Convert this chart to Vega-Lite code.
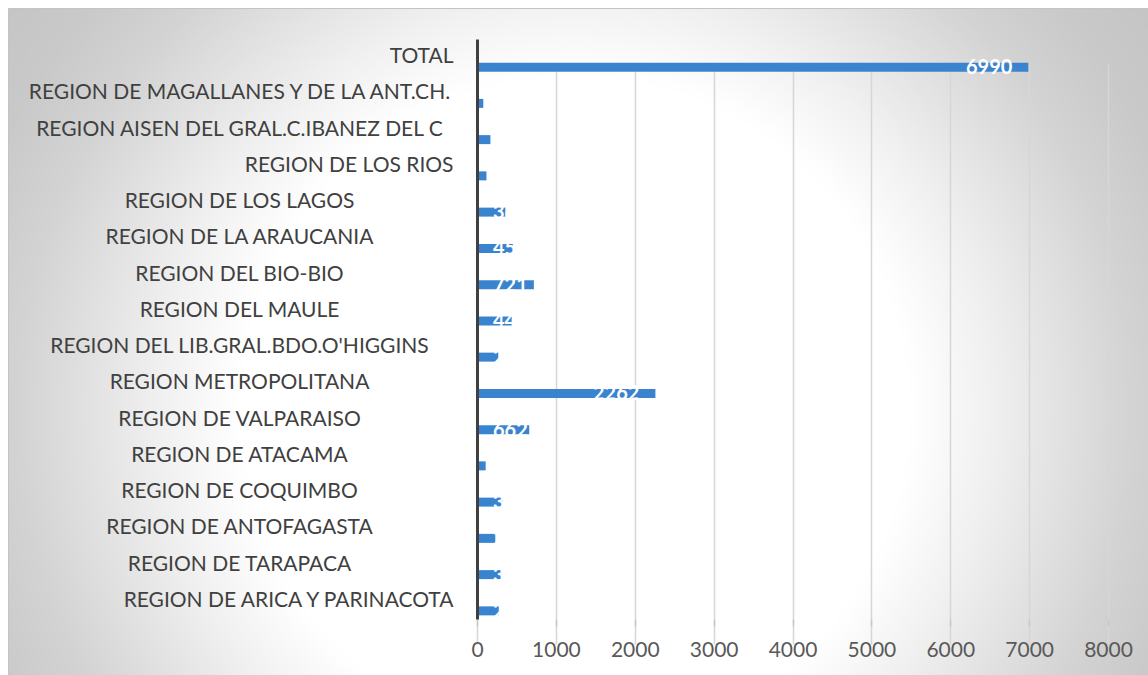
{
  "$schema": "https://vega.github.io/schema/vega-lite/v6.json",
  "width": 1140,
  "height": 667,
  "autosize": {"type": "none"},
  "padding": {"left": 8, "top": 8, "right": 0, "bottom": 0},
  "background": "#ffffff",
  "config": {
    "view": {
      "fill": {
        "gradient": "radial",
        "x1": 0.497, "y1": 0.56, "r1": 0,
        "x2": 0.497, "y2": 0.56, "r2": 0.65,
        "stops": [
          {"offset": 0, "color": "#ffffff"},
          {"offset": 0.45, "color": "#ffffff"},
          {"offset": 0.56, "color": "#f0f0f0"},
          {"offset": 0.75, "color": "#d3d3d3"},
          {"offset": 0.85, "color": "#c9c9c9"},
          {"offset": 1, "color": "#c2c2c2"}
        ]
      },
      "stroke": "#c4c4c4",
      "strokeWidth": 1
    }
  },
  "data": {
    "values": [
      {"region": "TOTAL", "value": 6990},
      {"region": "REGION DE MAGALLANES Y DE LA ANT.CH.", "value": 80},
      {"region": "REGION AISEN DEL GRAL.C.IBANEZ DEL C", "value": 170},
      {"region": "REGION DE LOS RIOS", "value": 120},
      {"region": "REGION DE LOS LAGOS", "value": 360},
      {"region": "REGION DE LA ARAUCANIA", "value": 455},
      {"region": "REGION DEL BIO-BIO", "value": 721},
      {"region": "REGION DEL MAULE", "value": 449},
      {"region": "REGION DEL LIB.GRAL.BDO.O'HIGGINS", "value": 270},
      {"region": "REGION METROPOLITANA", "value": 2262},
      {"region": "REGION DE VALPARAISO", "value": 662},
      {"region": "REGION DE ATACAMA", "value": 110},
      {"region": "REGION DE COQUIMBO", "value": 321},
      {"region": "REGION DE ANTOFAGASTA", "value": 232},
      {"region": "REGION DE TARAPACA", "value": 300},
      {"region": "REGION DE ARICA Y PARINACOTA", "value": 276}
    ]
  },
  "encoding": {
    "y": {
      "field": "region",
      "type": "nominal",
      "sort": null,
      "scale": {"range": [31, 611], "paddingInner": 0, "paddingOuter": 0},
      "axis": {
        "title": null,
        "orient": "left",
        "offset": -469,
        "domainColor": "#404040",
        "domainWidth": 3,
        "ticks": false,
        "labelFont": "Lato",
        "labelFontSize": 21,
        "labelColor": "#404040",
        "labelLimit": 0,
        "labelOverlap": false,
        "labelAlign": {
          "condition": {"test": "indexof(['TOTAL','REGION DE LOS RIOS','REGION DE ARICA Y PARINACOTA'], datum.value) >= 0", "value": "right"},
          "value": "center"
        },
        "labelPadding": {
          "condition": {"test": "indexof(['TOTAL','REGION DE LOS RIOS','REGION DE ARICA Y PARINACOTA'], datum.value) >= 0", "value": 24},
          "value": 238
        },
        "grid": false,
        "zindex": 2
      }
    },
    "x": {
      "field": "value",
      "type": "quantitative",
      "scale": {"domain": [0, 8000], "range": [469, 1100], "nice": false, "zero": true},
      "axis": {
        "title": null,
        "orient": "bottom",
        "offset": -56,
        "domain": false,
        "format": "d",
        "values": [0, 1000, 2000, 3000, 4000, 5000, 6000, 7000, 8000],
        "labelFlush": false,
        "labelOverlap": false,
        "labelBound": false,
        "tickColor": "#c8c8c8",
        "tickSize": 7,
        "tickWidth": 1.5,
        "grid": true,
        "gridColor": "#d6d6d6",
        "gridWidth": 1.5,
        "labelFont": "Lato",
        "labelFontSize": 21,
        "labelColor": "#595959",
        "labelPadding": 13,
        "zindex": 0
      }
    }
  },
  "layer": [
    {
      "mark": {"type": "bar", "color": "#3a84cf", "size": 9, "yOffset": 10}
    },
    {
      "transform": [{"filter": "datum.value >= 1000"}],
      "mark": {"type": "text", "color": "#ffffff", "font": "Lato", "fontWeight": "bold", "fontSize": 20, "align": "right", "baseline": "middle", "dx": -16, "yOffset": 11},
      "encoding": {
        "text": {"field": "value", "type": "quantitative", "format": "d"}
      }
    },
    {
      "transform": [{"filter": "datum.value < 1000"}],
      "mark": {"type": "text", "color": "#ffffff", "font": "Lato", "fontWeight": "bold", "fontSize": 20, "align": "left", "baseline": "middle", "dx": 16, "yOffset": 11},
      "encoding": {
        "x": {"datum": 0, "type": "quantitative"},
        "text": {"field": "value", "type": "quantitative", "format": "d"}
      }
    }
  ]
}
